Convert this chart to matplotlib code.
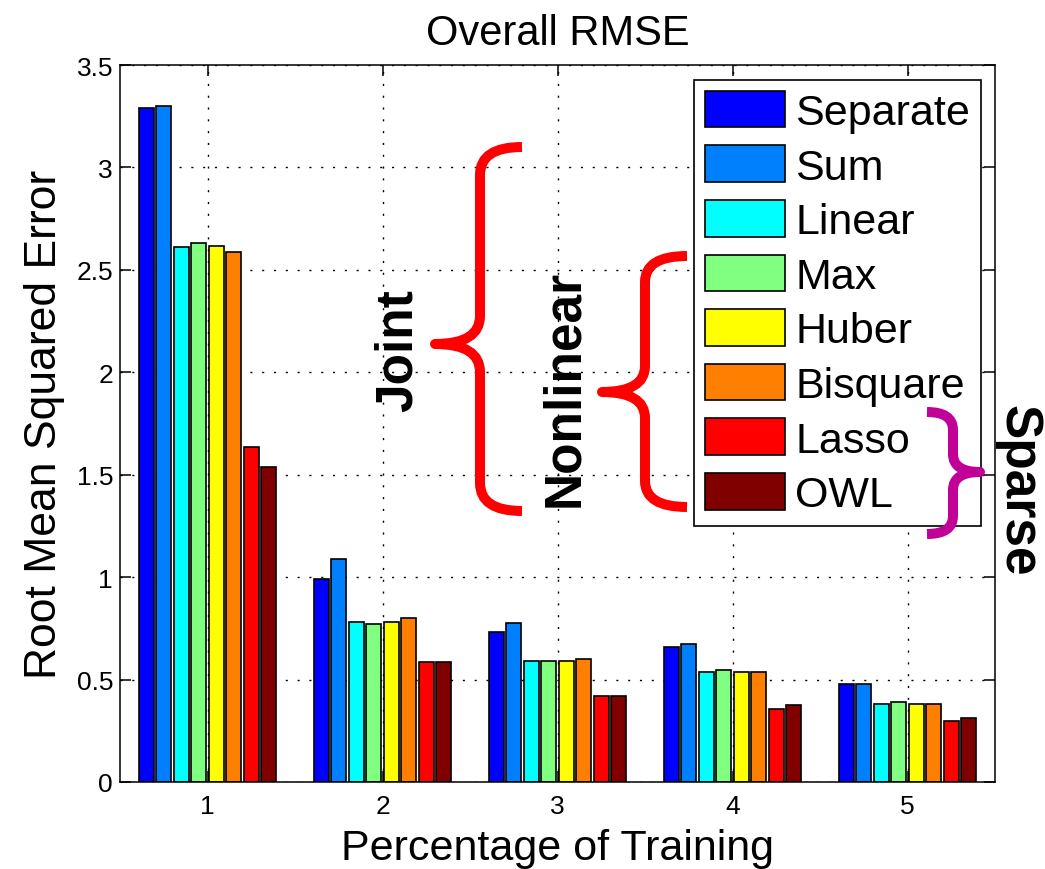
import matplotlib
matplotlib.use("Agg")
import matplotlib.pyplot as plt
import numpy as np
from matplotlib.path import Path
from matplotlib.patches import PathPatch

plt.rcParams["font.family"] = ["Liberation Sans", "DejaVu Sans"]

# data
training = [1, 2, 3, 4, 5]
methods = ["Separate", "Sum", "Linear", "Max", "Huber", "Bisquare", "Lasso", "OWL"]
separate = [3.29, 0.99, 0.73, 0.66, 0.48]
sum_ = [3.30, 1.09, 0.775, 0.675, 0.48]
linear = [2.61, 0.78, 0.59, 0.535, 0.38]
max_ = [2.63, 0.77, 0.59, 0.545, 0.39]
huber = [2.615, 0.78, 0.59, 0.535, 0.38]
bisquare = [2.585, 0.80, 0.60, 0.535, 0.38]
lasso = [1.635, 0.585, 0.42, 0.355, 0.30]
owl = [1.54, 0.585, 0.42, 0.375, 0.31]
yticks = [0, 0.5, 1, 1.5, 2, 2.5, 3, 3.5]
ytick_labels = ["0", "0.5", "1", "1.5", "2", "2.5", "3", "3.5"]

series = [separate, sum_, linear, max_, huber, bisquare, lasso, owl]
# matlab jet(8)
colors = ["#0000ff", "#0080ff", "#00ffff", "#80ff80",
          "#ffff00", "#ff8000", "#ff0000", "#800000"]

W, H = 1045, 870
fig = plt.figure(figsize=(W / 100, H / 100), dpi=100)
ax = fig.add_axes([120 / W, 1 - 783 / H, 875 / W, 717 / H])

x = np.array(training, dtype=float)
slot = 0.1
handles = []
for i, (vals, col) in enumerate(zip(series, colors)):
    off = (i - 3.5) * slot
    b = ax.bar(x + off, vals, width=0.085, color=col, edgecolor="black",
               linewidth=1.2, label=methods[i], zorder=2)
    handles.append(b)

ax.set_xlim(0.5, 5.5)
ax.set_ylim(0, 3.5)
ax.set_xticks(training)
ax.set_yticks(yticks)
ax.set_yticklabels(ytick_labels)
ax.tick_params(direction="in", length=8, width=1.1, labelsize=19,
               top=True, right=True)
ax.tick_params(axis="x", pad=9)
ax.tick_params(axis="y", pad=5)
for s in ax.spines.values():
    s.set_linewidth(1.1)
ax.grid(True, color="black", linestyle=(0, (1.5, 7)), linewidth=1.0)
ax.set_axisbelow(True)

ax.set_title("Overall RMSE", fontsize=30, pad=15)
ax.set_xlabel("Percentage of Training", fontsize=31, labelpad=7)
ax.set_ylabel("Root Mean Squared Error", fontsize=32, labelpad=8)

leg = ax.legend(handles=handles, loc="upper right", bbox_to_anchor=(0.984, 0.979),
                fontsize=31, fancybox=False, edgecolor="black", framealpha=1,
                borderpad=0.25, handlelength=1.86, handleheight=0.93,
                labelspacing=0.29, handletextpad=0.25, borderaxespad=0)
leg.get_frame().set_linewidth(1.2)


def fxy(px, py):
    return (px / W, 1 - py / H)


def brace(x_end, x_s, x_m, y_top, y_mid, y_bot, r, color):
    pts = [(x_end, y_top),
           (x_s, y_top), (x_s, y_top + r),
           (x_s, y_mid - r),
           (x_s, y_mid), (x_m, y_mid),
           (x_s, y_mid), (x_s, y_mid + r),
           (x_s, y_bot - r),
           (x_s, y_bot), (x_end, y_bot)]
    codes = [Path.MOVETO,
             Path.CURVE3, Path.CURVE3,
             Path.LINETO,
             Path.CURVE3, Path.CURVE3,
             Path.CURVE3, Path.CURVE3,
             Path.LINETO,
             Path.CURVE3, Path.CURVE3]
    p = Path([fxy(*q) for q in pts], codes)
    patch = PathPatch(p, facecolor="none", edgecolor=color, linewidth=7.2,
                      transform=fig.transFigure, zorder=10, clip_on=False,
                      capstyle="butt", joinstyle="round")
    fig.add_artist(patch)


brace(522, 480, 435, 148, 345, 512, 28, "#ff0000")
brace(687, 645, 602, 257, 393, 508, 26, "#ff0000")
brace(927, 953, 980, 413, 473, 535, 18, "#c00096")

fig.text(*fxy(398, 351), "Joint", rotation=90, fontsize=37, fontweight="bold",
         ha="center", va="center")
fig.text(*fxy(565, 388), "Nonlinear", rotation=90, fontsize=37, fontweight="bold",
         ha="center", va="center")
fig.text(*fxy(1018, 491), "Sparse", rotation=-90, fontsize=37, fontweight="bold",
         ha="center", va="center")

fig.savefig("out.png", dpi=100)
